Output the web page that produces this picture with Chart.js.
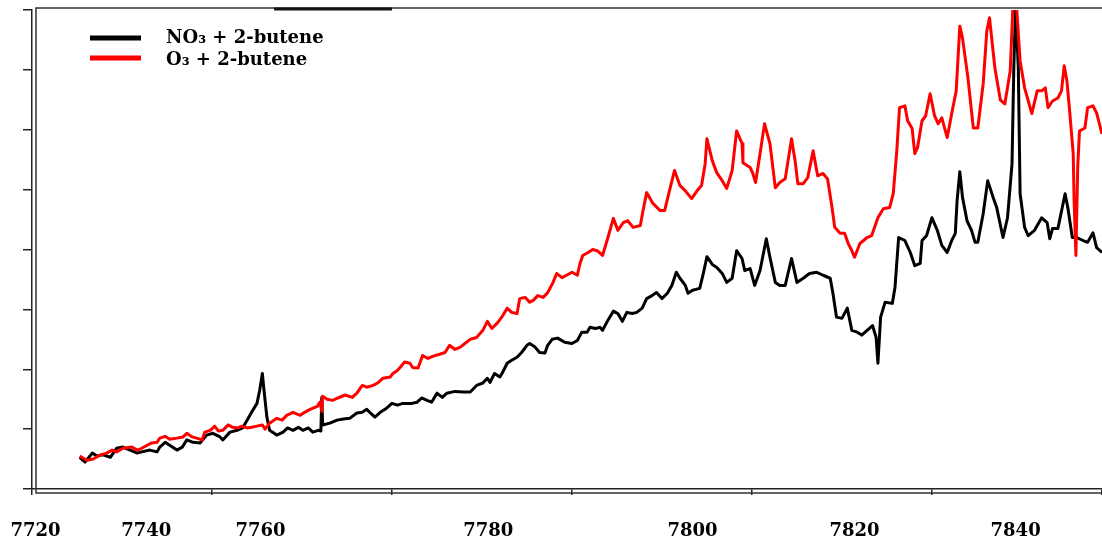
<!DOCTYPE html>
<html>
<head>
<meta charset="utf-8">
<script src="https://cdn.jsdelivr.net/npm/chart.js@4"></script>
<style>
  html, body { margin: 0; padding: 0; background: #fff; }
  #wrap { width: 1102px; height: 543px; }
</style>
</head>
<body>
<div id="wrap"><canvas id="specChart" width="1102" height="543"></canvas></div>
<script>
// series names
const seriesNames = ["NO\u2083 + 2-butene", "O\u2083 + 2-butene"];

// NO3 + 2-butene
const no3X = [7725.3,7725.9,7726.7,7727.2,7727.9,7728.7,7729.4,7730.1,7730.9,7731.7,7732.2,7733.1,7733.9,7734.2,7734.8,7735.3,7736.1,7736.7,7737.2,7737.9,
  7738.7,7739.4,7740.1,7740.9,7741.2,7742.0,7742.8,7743.4,7743.9,7744.4,7745.0,7745.3,7745.6,7745.7,7745.9,7746.1,7746.4,7747.2,7747.9,7748.4,
  7749.0,7749.6,7750.1,7750.7,7751.2,7751.8,7752.1,7752.2,7752.3,7753.1,7753.9,7754.6,7755.3,7756.1,7756.7,7757.2,7757.6,7758.1,7758.7,7759.4,
  7760.0,7760.6,7761.2,7762.2,7762.8,7763.3,7763.9,7764.4,7765.0,7765.6,7766.1,7767.0,7767.9,7768.7,7769.4,7770.1,7770.6,7770.9,7771.4,7772.0,
  7772.3,7772.8,7773.3,7773.9,7774.4,7775.0,7775.3,7775.9,7776.4,7777.0,7777.3,7777.8,7778.4,7779.2,7780.0,7780.6,7781.1,7781.7,7782.0,7782.6,
  7783.1,7783.4,7784.0,7784.6,7785.1,7785.6,7786.1,7786.7,7787.2,7787.8,7788.3,7788.9,7789.4,7790.0,7790.6,7791.1,7791.6,7792.0,7792.6,7792.9,
  7793.4,7794.2,7794.6,7795.0,7795.6,7796.1,7796.7,7797.2,7797.8,7798.3,7798.9,7799.2,7799.8,7800.3,7800.9,7801.6,7802.0,7802.6,7803.1,7803.7,
  7804.4,7805.0,7805.7,7806.4,7807.2,7807.9,7808.7,7809.0,7809.4,7810.0,7810.6,7811.1,7811.7,7812.2,7812.8,7813.4,7813.8,7814.0,7814.3,7814.8,
  7815.6,7815.9,7816.3,7817.0,7817.6,7818.1,7818.7,7818.9,7819.4,7820.0,7820.6,7821.1,7821.7,7822.2,7822.6,7822.8,7823.1,7823.4,7823.9,7824.4,
  7824.8,7825.1,7825.7,7826.2,7826.8,7827.2,7827.9,7828.4,7828.9,7829.1,7829.3,7829.6,7829.8,7830.3,7830.7,7831.4,7832.2,7832.8,7833.1,7833.4,
  7834.0,7834.8,7835.1,7835.6,7836.1,7836.8,7837.3,7837.9,7838.3,7838.9];
const no3Y = [0.53,0.45,0.60,0.55,0.57,0.53,0.68,0.70,0.65,0.60,0.62,0.65,0.62,0.70,0.78,0.73,0.65,0.70,0.82,0.78,
  0.77,0.90,0.93,0.87,0.82,0.95,0.98,1.02,1.15,1.28,1.43,1.65,1.93,1.77,1.48,1.20,0.98,0.90,0.95,1.02,
  0.98,1.03,0.98,1.02,0.95,0.98,0.97,1.53,1.07,1.10,1.15,1.17,1.18,1.27,1.28,1.33,1.27,1.20,1.28,1.35,
  1.43,1.40,1.43,1.43,1.45,1.52,1.48,1.45,1.60,1.53,1.60,1.63,1.62,1.62,1.73,1.77,1.85,1.78,1.93,1.87,
  1.95,2.10,2.15,2.20,2.28,2.40,2.43,2.37,2.28,2.27,2.40,2.50,2.52,2.45,2.43,2.48,2.62,2.62,2.70,2.68,
  2.70,2.65,2.82,2.97,2.93,2.80,2.95,2.93,2.95,3.02,3.18,3.23,3.28,3.18,3.27,3.40,3.62,3.52,3.40,3.27,
  3.32,3.35,3.60,3.88,3.75,3.70,3.60,3.45,3.52,3.98,3.85,3.65,3.68,3.40,3.65,4.18,3.87,3.45,3.40,3.40,
  3.85,3.45,3.52,3.60,3.62,3.57,3.52,3.27,2.87,2.85,3.02,2.65,2.62,2.57,2.65,2.73,2.53,2.10,2.87,3.12,
  3.10,3.37,4.20,4.15,3.95,3.73,3.77,4.15,4.23,4.53,4.32,4.07,3.95,4.15,4.27,4.82,5.30,4.87,4.48,4.32,
  4.12,4.12,4.60,5.15,4.87,4.70,4.20,4.53,5.43,7.03,8.07,7.03,4.93,4.37,4.23,4.32,4.53,4.45,4.18,4.35,
  4.35,4.93,4.70,4.20,4.20,4.15,4.12,4.28,4.03,3.95];

// O3 + 2-butene
const o3X = [7725.3,7726.1,7726.8,7727.6,7728.3,7728.9,7729.4,7730.1,7731.1,7731.7,7732.2,7732.8,7733.3,7733.9,7734.2,7734.8,7735.3,7736.1,7736.8,7737.2,
  7737.8,7738.3,7738.9,7739.2,7739.8,7740.3,7740.7,7741.2,7741.8,7742.3,7742.9,7743.3,7743.9,7744.4,7745.0,7745.6,7745.9,7746.4,7747.2,7747.8,
  7748.3,7749.0,7749.8,7750.3,7750.9,7751.7,7752.0,7752.2,7752.3,7752.8,7753.4,7754.0,7754.8,7755.6,7756.1,7756.7,7757.2,7757.9,7758.4,7759.0,
  7759.8,7760.1,7760.6,7760.9,7761.4,7762.0,7762.3,7762.9,7763.4,7764.0,7764.6,7765.3,7765.9,7766.4,7767.0,7767.6,7768.1,7768.7,7769.4,7770.1,
  7770.6,7771.1,7771.7,7772.2,7772.8,7773.3,7773.9,7774.2,7774.8,7775.3,7775.7,7776.2,7776.8,7777.3,7777.9,7778.3,7778.9,7779.4,7780.0,7780.6,
  7780.9,7781.2,7781.8,7782.3,7782.8,7783.4,7784.0,7784.6,7785.1,7785.7,7786.2,7786.8,7787.6,7787.9,7788.3,7789.0,7789.8,7790.3,7790.9,7791.4,
  7792.0,7792.6,7793.3,7793.9,7794.4,7794.8,7795.0,7795.6,7796.1,7796.7,7797.2,7797.8,7798.3,7798.9,7799.0,7799.8,7800.1,7800.4,7800.9,7801.4,
  7802.0,7802.6,7803.1,7803.7,7804.4,7804.8,7805.1,7805.7,7806.2,7806.8,7807.3,7807.9,7808.4,7808.9,7809.2,7809.8,7810.3,7810.7,7811.1,7811.4,
  7812.0,7812.8,7813.3,7814.0,7814.6,7815.3,7815.7,7816.1,7816.4,7817.0,7817.3,7817.8,7818.1,7818.4,7818.9,7819.3,7819.8,7820.3,7820.7,7821.1,
  7821.7,7822.2,7822.7,7823.1,7823.4,7824.0,7824.6,7825.1,7825.7,7826.1,7826.4,7827.0,7827.6,7828.1,7828.7,7829.0,7829.4,7829.8,7830.3,7831.1,
  7831.7,7832.2,7832.6,7832.9,7833.4,7834.0,7834.4,7834.7,7835.0,7835.3,7835.7,7835.8,7836.0,7836.2,7836.4,7837.0,7837.3,7837.9,7838.3,7838.9];
const o3Y = [0.55,0.48,0.50,0.57,0.60,0.65,0.62,0.68,0.70,0.65,0.68,0.73,0.77,0.78,0.85,0.88,0.83,0.85,0.87,0.93,
  0.87,0.85,0.82,0.95,0.98,1.05,0.97,0.98,1.07,1.03,1.02,1.05,1.02,1.03,1.05,1.07,1.00,1.10,1.18,1.15,
  1.23,1.28,1.23,1.28,1.33,1.38,1.45,1.30,1.55,1.50,1.48,1.52,1.57,1.53,1.60,1.73,1.70,1.73,1.77,1.85,
  1.87,1.93,1.98,2.03,2.12,2.10,2.03,2.02,2.23,2.18,2.22,2.25,2.28,2.40,2.33,2.37,2.43,2.50,2.53,2.65,
  2.80,2.68,2.77,2.87,3.02,2.95,2.93,3.18,3.20,3.12,3.15,3.23,3.20,3.28,3.45,3.60,3.53,3.57,3.62,3.57,
  3.77,3.90,3.95,4.00,3.98,3.90,4.20,4.52,4.32,4.45,4.48,4.37,4.40,4.65,4.95,4.77,4.65,4.65,5.02,5.32,
  5.07,4.98,4.85,4.98,5.07,5.43,5.85,5.48,5.28,5.15,5.02,5.32,5.98,5.77,5.45,5.37,5.27,5.12,5.60,6.10,
  5.77,5.03,5.12,5.18,5.85,5.48,5.10,5.10,5.20,5.65,5.23,5.27,5.18,4.70,4.37,4.27,4.27,4.10,3.98,3.87,
  4.10,4.20,4.23,4.53,4.68,4.70,4.93,5.65,6.37,6.40,6.15,6.02,5.60,5.70,6.15,6.23,6.60,6.23,6.10,6.20,
  5.87,6.27,6.65,7.73,7.53,6.87,6.03,6.03,6.77,7.65,7.87,7.03,6.50,6.43,6.98,8.07,8.07,7.15,6.70,6.27,
  6.65,6.65,6.70,6.37,6.48,6.53,6.65,7.07,6.82,6.32,5.60,4.82,3.90,5.37,5.98,6.03,6.37,6.40,6.28,5.93];

// axis text
const tickLabels = ["7720", "7740", "7760", "7780", "7800", "7820", "7840"];
// where the printed labels sit, in axis units (they do not line up with the tick marks)
const tickLabelAt = [7720.4, 7732.7, 7745.4, 7770.7, 7793.4, 7811.4, 7829.3];

const toPoints = (xs, ys) => xs.map((x, i) => ({ x: x, y: ys[i] }));

const frameAndLegend = {
    id: "frameAndLegend",
    beforeDatasetsDraw(chart) {
        const { ctx, chartArea: a } = chart;
        const xs = chart.scales.x;
        ctx.save();
        ctx.strokeStyle = "#333";
        ctx.lineWidth = 1.5;
        ctx.beginPath();
        ctx.moveTo(chart.width, a.top - 2);
        ctx.lineTo(a.left + 4, a.top - 2);
        ctx.lineTo(a.left + 4, a.bottom + 4);
        ctx.lineTo(chart.width, a.bottom + 4);
        ctx.stroke();
        // thick bit on the top edge
        ctx.strokeStyle = "#111";
        ctx.lineWidth = 3;
        ctx.beginPath();
        ctx.moveTo(xs.getPixelForValue(7746.9), a.top - 1);
        ctx.lineTo(xs.getPixelForValue(7760.0), a.top - 1);
        ctx.stroke();
        ctx.restore();
    },
    afterDraw(chart) {
        const ctx = chart.ctx;
        const colors = chart.data.datasets.map(d => d.borderColor);
        ctx.save();
        ctx.font = "bold 18px 'DejaVu Serif'";
        ctx.textBaseline = "alphabetic";
        ctx.fillStyle = "#000";
        [[38, 43], [58, 65]].forEach(([ly, ty], i) => {
            ctx.strokeStyle = colors[i];
            ctx.lineWidth = 5;
            ctx.beginPath();
            ctx.moveTo(90, ly);
            ctx.lineTo(141, ly);
            ctx.stroke();
            ctx.fillText(seriesNames[i], 166, ty);
        });
        ctx.restore();
    }
};

new Chart(document.getElementById("specChart").getContext("2d"), {
    type: "line",
    data: {
        datasets: [
            { label: seriesNames[0], data: toPoints(no3X, no3Y), borderColor: "#000000", borderWidth: 3, order: 1 },
            { label: seriesNames[1], data: toPoints(o3X, o3Y), borderColor: "#ff0000", borderWidth: 3, order: 0 }
        ]
    },
    options: {
        responsive: false,
        animation: false,
        devicePixelRatio: 1,
        layout: { padding: { top: 10, left: 0, right: 0, bottom: 0 } },
        elements: { point: { radius: 0 }, line: { tension: 0, borderJoinStyle: "round" } },
        plugins: { legend: { display: false }, tooltip: { enabled: false } },
        scales: {
            x: {
                type: "linear",
                min: 7720,
                max: 7838.9,
                ticks: { display: false, stepSize: 20 },
                grid: { drawOnChartArea: false, drawTicks: true, tickLength: 6, color: "#222", lineWidth: 1.5 },
                border: { display: true, color: "#222", width: 1.5 },
                afterFit: s => { s.height = 8; s.paddingLeft = 0; s.paddingRight = 0; }
            },
            xl: {
                type: "linear",
                position: "bottom",
                min: 7720,
                max: 7838.9,
                afterBuildTicks: s => { s.ticks = tickLabelAt.map(v => ({ value: v })); },
                ticks: {
                    autoSkip: false,
                    maxRotation: 0,
                    padding: 24,
                    color: "#000",
                    font: { family: "'DejaVu Serif'", weight: "bold", size: 18 },
                    callback: (v, i) => tickLabels[i]
                },
                grid: { display: false, drawTicks: false },
                border: { display: false },
                afterFit: s => { s.height = 46; s.paddingLeft = 0; s.paddingRight = 0; }
            },
            y: {
                min: 0,
                max: 8,
                ticks: { display: false, stepSize: 1 },
                grid: { drawOnChartArea: false, drawTicks: true, tickLength: 9, color: "#222", lineWidth: 1.5 },
                border: { display: true, color: "#222", width: 1.5 },
                afterFit: s => { s.width = 32; s.paddingTop = 0; s.paddingBottom = 0; }
            }
        }
    },
    plugins: [frameAndLegend]
});
</script>
</body>
</html>
